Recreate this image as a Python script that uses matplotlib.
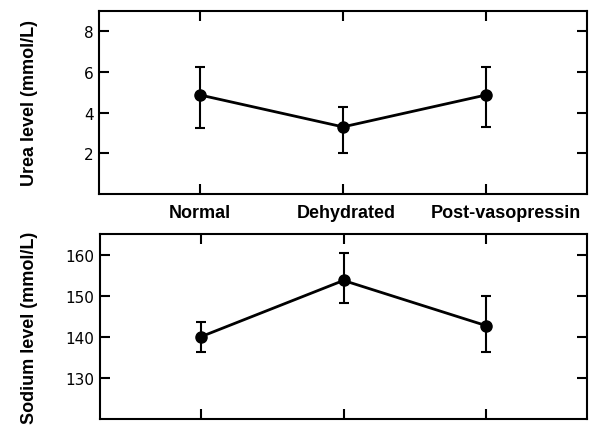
import matplotlib
matplotlib.use("Agg")
import matplotlib.pyplot as plt

categories = ["Normal", "Dehydrated", "Post-vasopressin"]
urea_mean = [4.87, 3.30, 4.87]
urea_low = [3.27, 2.03, 3.30]
urea_high = [6.25, 4.30, 6.25]
sodium_mean = [140.0, 153.7, 142.7]
sodium_low = [136.3, 148.1, 136.4]
sodium_high = [143.7, 160.3, 149.8]
urea_ticks = [2, 4, 6, 8]
sodium_ticks = [130, 140, 150, 160]
label_shift_px = [0, 3, 20]

fig = plt.figure(figsize=(5.93, 4.27), dpi=100)
ax1 = fig.add_axes([99/593, 1-195/427, 488/593, 183/427])
ax2 = fig.add_axes([100/593, 1-420/427, 487/593, 185/427])

x = list(range(len(categories)))

def draw(ax, mean, low, high):
    yerr = [[m - l for m, l in zip(mean, low)], [h - m for m, h in zip(mean, high)]]
    ax.errorbar(x, mean, yerr=yerr, color="black", lw=2, marker="o", ms=8,
                capsize=3.5, capthick=1.5, elinewidth=1.5)
    ax.set_xlim(-0.706, 2.706)
    for s in ax.spines.values():
        s.set_linewidth(1.5)
    ax.tick_params(axis="both", direction="in", width=1.5, length=7,
                   top=True, right=True, bottom=True, left=True)
    ax.tick_params(axis="y", labelsize=11, pad=4)

draw(ax1, urea_mean, urea_low, urea_high)
ax1.set_ylim(0, 9)
ax1.set_yticks(urea_ticks)
ax1.set_xticks(x)
ax1.set_xticklabels([])
for xi, name, sh in zip(x, categories, label_shift_px):
    ax1.annotate(name, xy=(xi, 0), xycoords=("data", "axes fraction"),
                 xytext=(sh * 0.72, -13), textcoords="offset points",
                 ha="center", va="center", fontsize=13, fontweight="bold",
                 family="Liberation Sans", annotation_clip=False)
ax1.set_ylabel("Urea level (mmol/L)", fontsize=13, fontweight="bold",
               family="Liberation Sans")
ax1.yaxis.set_label_coords((38 - 99) / 488, 0.5)

draw(ax2, sodium_mean, sodium_low, sodium_high)
ax2.set_ylim(120, 165)
ax2.set_yticks(sodium_ticks)
ax2.set_xticks(x)
ax2.set_xticklabels([])
ax2.set_ylabel("Sodium level (mmol/L)", fontsize=13, fontweight="bold",
               family="Liberation Sans")
ax2.yaxis.set_label_coords((38 - 100) / 487, 0.5)

fig.savefig("out.png", dpi=100)
